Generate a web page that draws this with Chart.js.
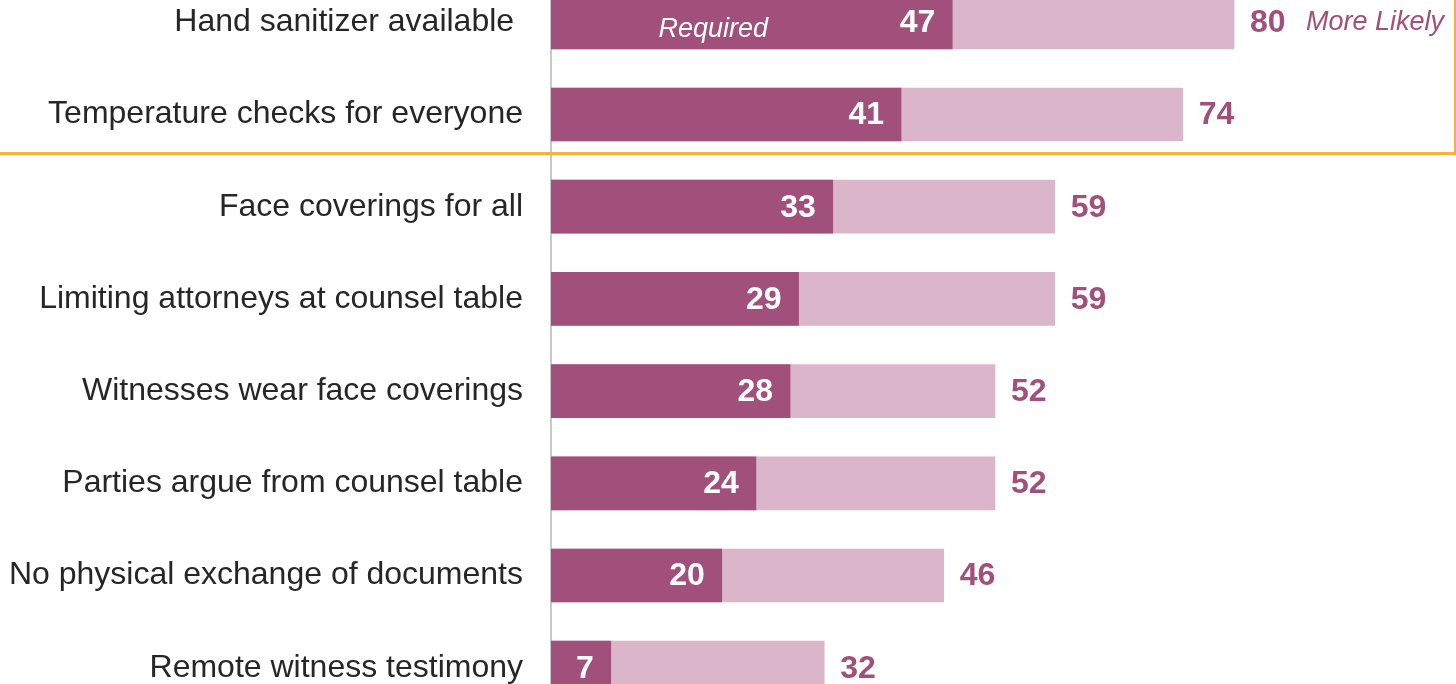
<!DOCTYPE html>
<html>
<head>
<meta charset="utf-8">
<script src="https://cdn.jsdelivr.net/npm/chart.js@4/dist/chart.umd.min.js"></script>
<style>
  html, body { margin: 0; padding: 0; background: #fff; overflow: hidden; }
  #wrap { position: absolute; left: 0; top: -71px; width: 1456px; height: 832px; }
</style>
</head>
<body>
<div id="wrap"><canvas id="myChart"></canvas></div>
<script>
var categories = [
  'Hand sanitizer available ',
  'Temperature checks for everyone',
  'Face coverings for all',
  'Limiting attorneys at counsel table',
  'Witnesses wear face coverings',
  'Parties argue from counsel table',
  'No physical exchange of documents',
  'Remote witness testimony'
];
var requiredValues = [47, 41, 33, 29, 28, 24, 20, 7];
var moreLikelyValues = [80, 74, 59, 59, 52, 52, 46, 32];

var darkColor = '#A14F7B';
var lightColor = '#DBB6CB';

// value labels, series names and the orange box round the top two rows
var labelsPlugin = {
  id: 'barLabels',
  afterDatasetsDraw: function (chart) {
    var ctx = chart.ctx;
    var x = chart.scales.x, y = chart.scales.y;
    ctx.save();
    ctx.textBaseline = 'middle';
    for (var i = 0; i < categories.length; i++) {
      var cy = y.getPixelForValue(i) + 1;
      ctx.font = 'bold 32px "Liberation Sans", Arial, sans-serif';
      ctx.fillStyle = '#ffffff';
      ctx.textAlign = 'right';
      ctx.fillText(String(requiredValues[i]), x.getPixelForValue(requiredValues[i]) - 17, cy);
      ctx.fillStyle = darkColor;
      ctx.textAlign = 'left';
      ctx.fillText(String(moreLikelyValues[i]), x.getPixelForValue(moreLikelyValues[i]) + 16, cy);
    }
    var y0 = y.getPixelForValue(0);
    ctx.font = 'italic 27px "Liberation Sans", Arial, sans-serif';
    ctx.fillStyle = '#ffffff';
    ctx.textAlign = 'center';
    ctx.fillText('Required', x.getPixelForValue(19), y0 + 7);
    ctx.fillStyle = darkColor;
    ctx.textAlign = 'left';
    ctx.fillText('More Likely', x.getPixelForValue(80) + 72, y0);

    var ly = y.getPixelForValue(1) + 39;
    ctx.strokeStyle = '#F9AE40';
    ctx.lineWidth = 3;
    ctx.beginPath();
    ctx.moveTo(0, ly);
    ctx.lineTo(chart.width, ly);
    ctx.stroke();
    ctx.lineWidth = 2;
    ctx.beginPath();
    ctx.moveTo(chart.width - 1, 0);
    ctx.lineTo(chart.width - 1, ly);
    ctx.stroke();
    ctx.restore();
  }
};

var barChart = new Chart('myChart', {
  type: 'bar',
  data: {
    labels: categories,
    datasets: [{
      label: 'Required',
      data: requiredValues,
      backgroundColor: darkColor,
      grouped: false,
      barThickness: 53,
      order: 0
    }, {
      label: 'More Likely',
      data: moreLikelyValues,
      backgroundColor: lightColor,
      grouped: false,
      barThickness: 53,
      order: 1
    }]
  },
  options: {
    indexAxis: 'y',
    responsive: true,
    maintainAspectRatio: false,
    animation: false,
    layout: { padding: 0 },
    plugins: {
      legend: { display: false },
      tooltip: { enabled: false }
    },
    scales: {
      x: {
        display: false,
        min: 0,
        max: 106
      },
      y: {
        afterFit: function (scale) { scale.width = 551; },
        grid: { display: false, drawTicks: false },
        border: { display: true, color: '#C8C8C8', width: 2 },
        ticks: {
          color: '#262626',
          padding: 28,
          font: { family: '"Liberation Sans", Arial, sans-serif', size: 32 }
        }
      }
    }
  },
  plugins: [labelsPlugin]
});
</script>
</body>
</html>
